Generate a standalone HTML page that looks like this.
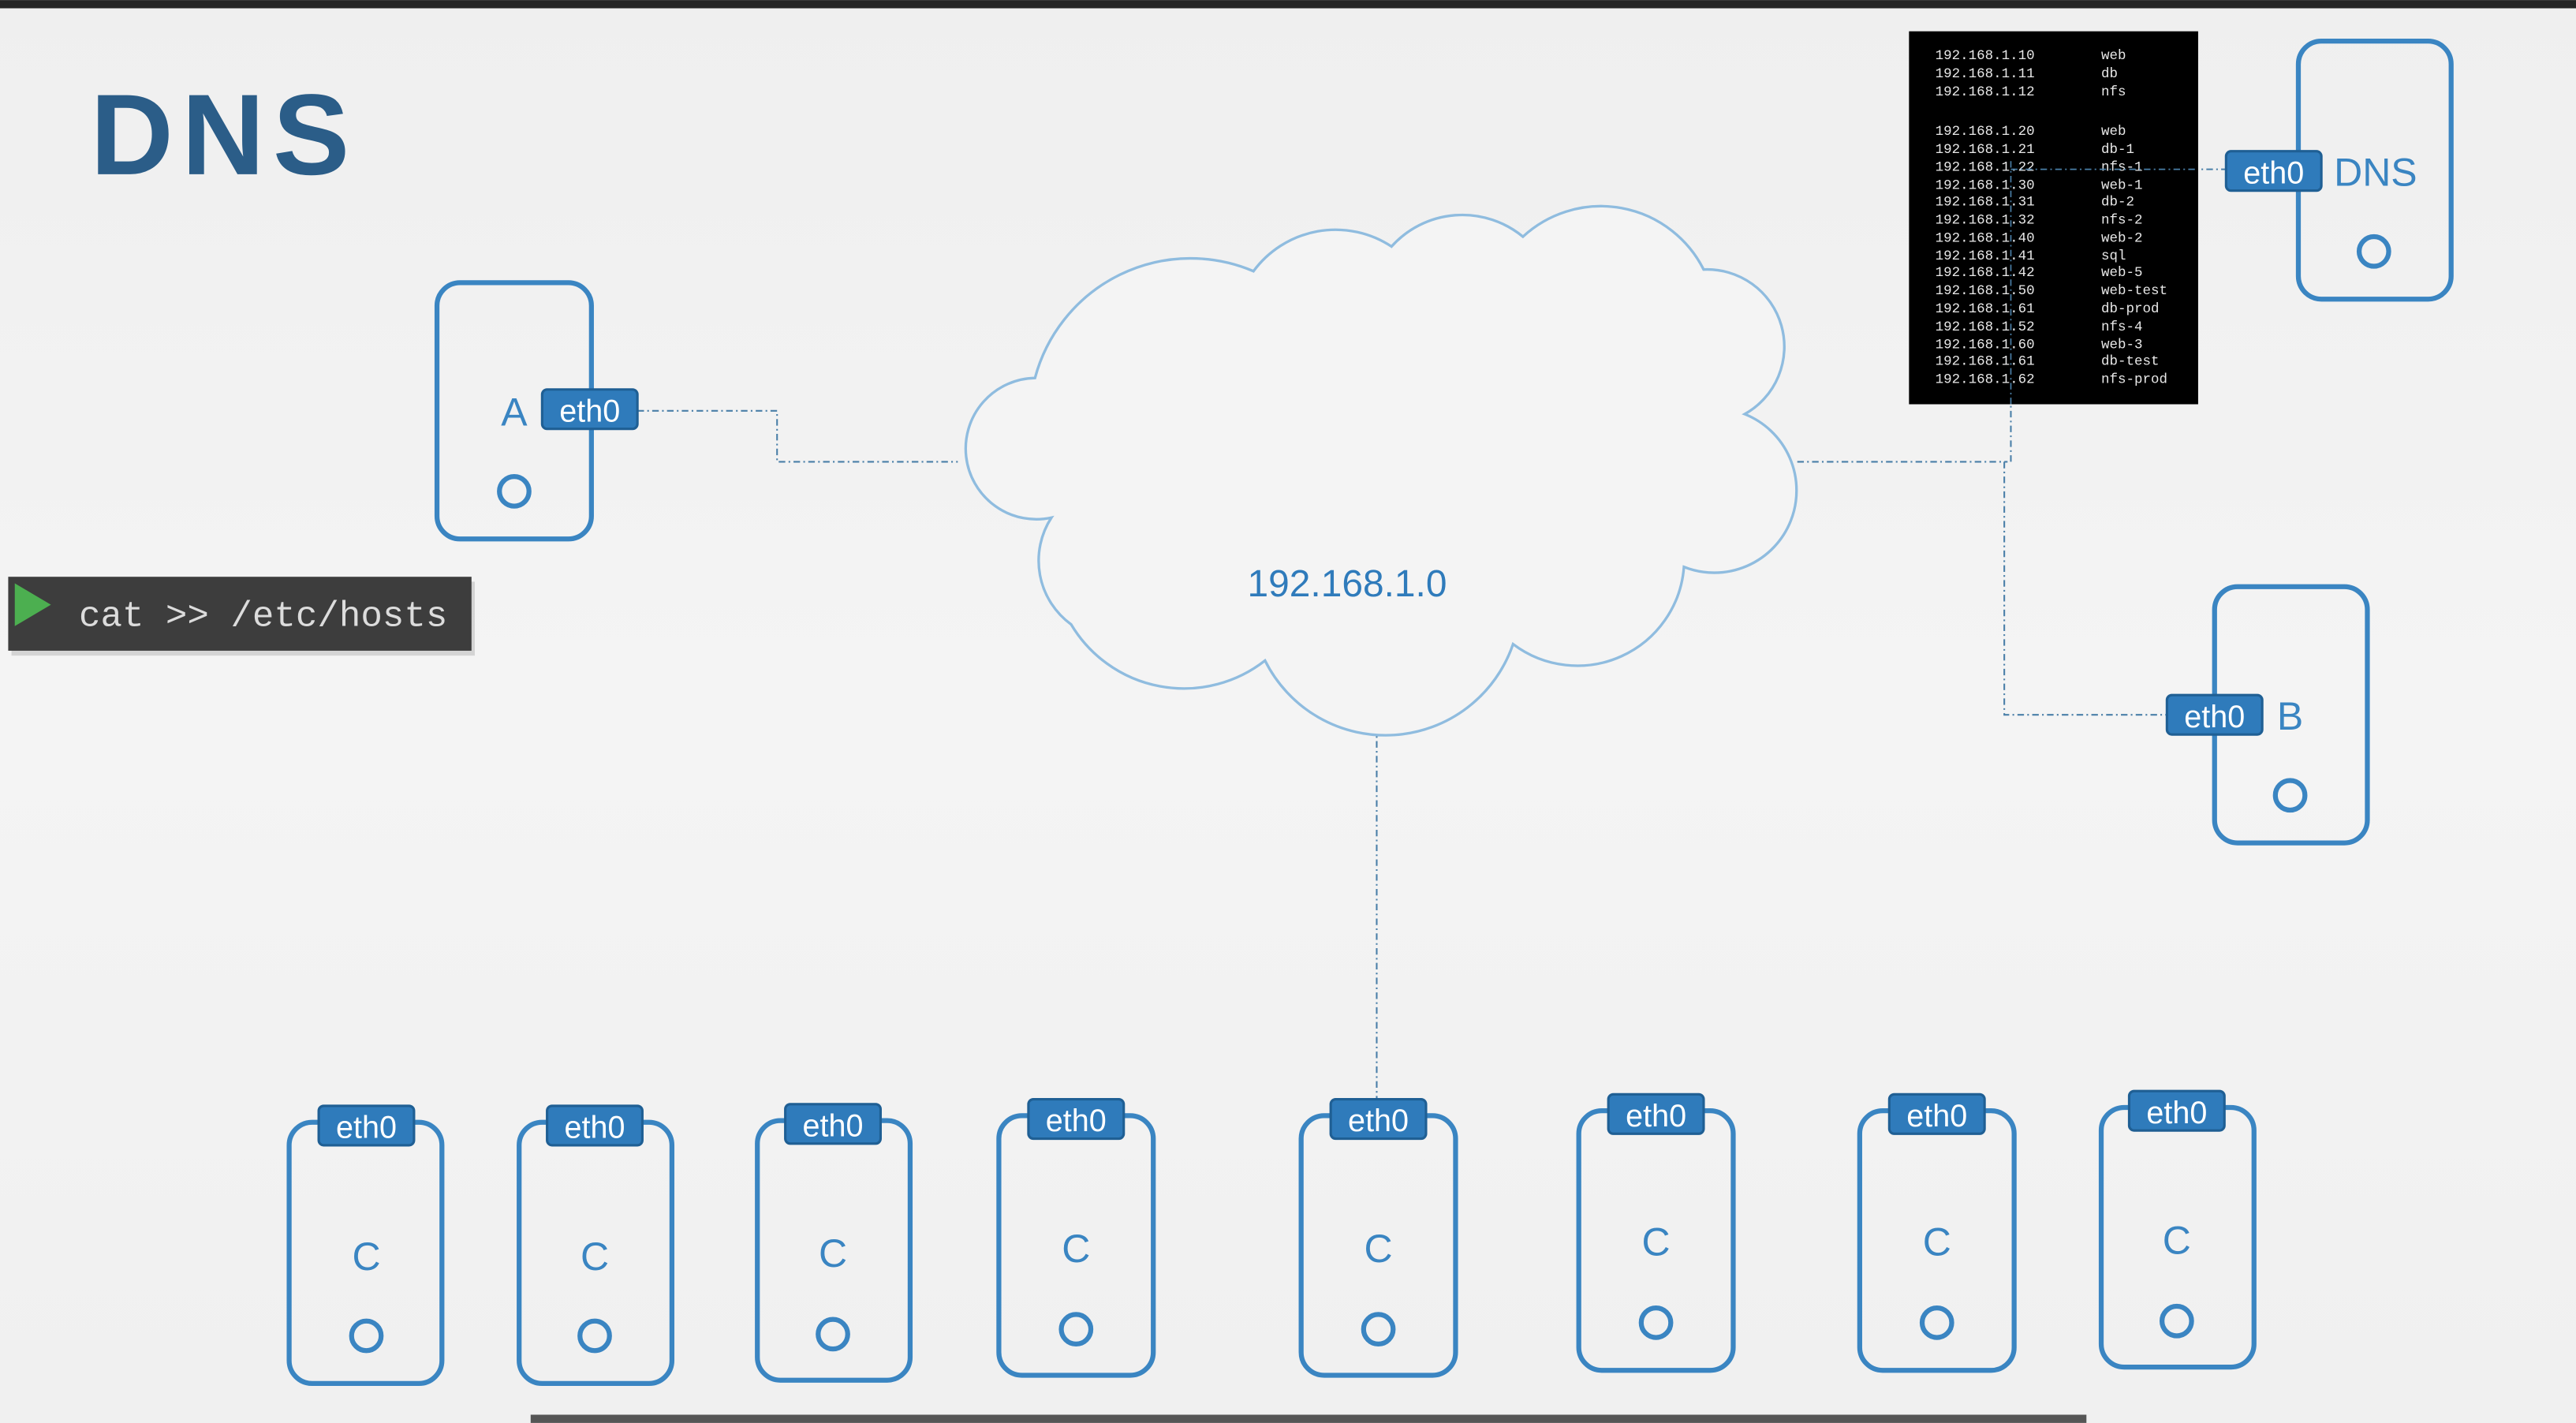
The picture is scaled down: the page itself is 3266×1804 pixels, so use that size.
<!DOCTYPE html>
<html><head><meta charset="utf-8"><style>
html,body{margin:0;padding:0;width:3266px;height:1804px;overflow:hidden;background:#f2f2f2}
svg{display:block}
</style></head><body>
<svg width="3266" height="1804" viewBox="0 0 1568 866" xmlns="http://www.w3.org/2000/svg">
<defs>
<linearGradient id="bg" x1="0" y1="0" x2="0" y2="1"><stop offset="0" stop-color="#efefef"/><stop offset="0.5" stop-color="#f4f4f4"/><stop offset="1" stop-color="#f0f0f0"/></linearGradient>
<g id="badge"><rect x="-29" y="-12" width="58" height="24" rx="3" fill="#2f7bbb" stroke="#1f5f94" stroke-width="1.5"/><text x="0" y="7.5" font-family="Liberation Sans, sans-serif" font-size="19" fill="#fff" text-anchor="middle">eth0</text></g>
</defs>
<rect width="1568" height="866" fill="url(#bg)"/>
<rect width="1568" height="5" fill="#262626"/>
<rect x="323" y="861" width="947" height="5" fill="#555"/>

<text x="55" y="106" font-family="Liberation Sans, sans-serif" font-weight="bold" font-size="70" letter-spacing="5" fill="#2b5d88">DNS</text>

<!-- dashed connectors -->
<g stroke="#4a7fa8" stroke-width="1" stroke-dasharray="4,2,1,2" fill="none">
<path d="M388 250 H473 V281 H583"/>
<path d="M1094 281 H1222"/>
<path d="M1220 281 V435 H1320"/>
<path d="M838 442 V670"/>
<path d="M1224 281 V103 H1355"/>
</g>

<!-- cloud -->
<path d="M640 315 A43 43 0 1 1 630 230 A98 98 0 0 1 763 165 A62 62 0 0 1 847 150 A58 58 0 0 1 927 144 A70 70 0 0 1 1037 164 A47 47 0 0 1 1062 252 A50 50 0 1 1 1025 345 A65 65 0 0 1 921 392 A82 82 0 0 1 770 402 A80 80 0 0 1 652 380 A48 48 0 0 1 640 315 Z" fill="#f4f4f4" stroke="#8fbcdf" stroke-width="1.6"/>
<text x="820" y="363" font-family="Liberation Sans, sans-serif" font-size="23" fill="#2f7bbb" text-anchor="middle">192.168.1.0</text>

<!-- hosts file -->
<rect x="1162" y="19" width="176" height="227" fill="#000"/>
<g font-family="Liberation Mono, monospace" font-size="8.4" fill="#e8e8e8">
<text x="1178" y="36">192.168.1.10</text><text x="1279" y="36">web</text>
<text x="1178" y="47">192.168.1.11</text><text x="1279" y="47">db</text>
<text x="1178" y="58">192.168.1.12</text><text x="1279" y="58">nfs</text>
<text x="1178" y="82">192.168.1.20</text><text x="1279" y="82">web</text>
<text x="1178" y="93">192.168.1.21</text><text x="1279" y="93">db-1</text>
<text x="1178" y="104">192.168.1.22</text><text x="1279" y="104">nfs-1</text>
<text x="1178" y="115">192.168.1.30</text><text x="1279" y="115">web-1</text>
<text x="1178" y="125">192.168.1.31</text><text x="1279" y="125">db-2</text>
<text x="1178" y="136">192.168.1.32</text><text x="1279" y="136">nfs-2</text>
<text x="1178" y="147">192.168.1.40</text><text x="1279" y="147">web-2</text>
<text x="1178" y="158">192.168.1.41</text><text x="1279" y="158">sql</text>
<text x="1178" y="168">192.168.1.42</text><text x="1279" y="168">web-5</text>
<text x="1178" y="179">192.168.1.50</text><text x="1279" y="179">web-test</text>
<text x="1178" y="190">192.168.1.61</text><text x="1279" y="190">db-prod</text>
<text x="1178" y="201">192.168.1.52</text><text x="1279" y="201">nfs-4</text>
<text x="1178" y="212">192.168.1.60</text><text x="1279" y="212">web-3</text>
<text x="1178" y="222">192.168.1.61</text><text x="1279" y="222">db-test</text>
<text x="1178" y="233">192.168.1.62</text><text x="1279" y="233">nfs-prod</text>
</g>
<path d="M1224 98 V246 M1224 103 H1338" stroke="#4a7fa8" stroke-width="0.8" stroke-dasharray="4,2,1,2" fill="none"/>

<g fill="none" stroke="#3a85c2" stroke-width="3">
<rect x="266" y="172" width="94" height="156" rx="14"/>
<circle cx="313" cy="299" r="9"/>
<rect x="1399" y="25" width="93" height="157" rx="14"/>
<circle cx="1445" cy="153" r="9"/>
<rect x="1348" y="357" width="93" height="156" rx="14"/>
<circle cx="1394" cy="484" r="9"/>
<rect x="176" y="683" width="93" height="159" rx="14"/><circle cx="223" cy="813" r="9"/>
<rect x="316" y="683" width="93" height="159" rx="14"/><circle cx="362" cy="813" r="9"/>
<rect x="461" y="682" width="93" height="158" rx="14"/><circle cx="507" cy="812" r="9"/>
<rect x="608" y="679" width="94" height="158" rx="14"/><circle cx="655" cy="809" r="9"/>
<rect x="792" y="679" width="94" height="158" rx="14"/><circle cx="839" cy="809" r="9"/>
<rect x="961" y="676" width="94" height="158" rx="14"/><circle cx="1008" cy="805" r="9"/>
<rect x="1132" y="676" width="94" height="158" rx="14"/><circle cx="1179" cy="805" r="9"/>
<rect x="1279" y="674" width="93" height="158" rx="14"/><circle cx="1325" cy="804" r="9"/>
</g>

<g font-family="Liberation Sans, sans-serif" font-size="24" fill="#3a85c2" text-anchor="middle">
<text x="313" y="259">A</text>
<text x="1446" y="113">DNS</text>
<text x="1394" y="444">B</text>
<text x="223" y="773">C</text><text x="362" y="773">C</text><text x="507" y="771">C</text><text x="655" y="768">C</text>
<text x="839" y="768">C</text><text x="1008" y="764">C</text><text x="1179" y="764">C</text><text x="1325" y="763">C</text>
</g>

<use href="#badge" x="359" y="249"/>
<use href="#badge" x="1384" y="104"/>
<use href="#badge" x="1348" y="435"/>
<use href="#badge" x="223" y="685"/>
<use href="#badge" x="362" y="685"/>
<use href="#badge" x="507" y="684"/>
<use href="#badge" x="655" y="681"/>
<use href="#badge" x="839" y="681"/>
<use href="#badge" x="1008" y="678"/>
<use href="#badge" x="1179" y="678"/>
<use href="#badge" x="1325" y="676"/>

<rect x="7" y="354" width="282" height="45" fill="#999" opacity="0.35"/>
<rect x="5" y="351" width="282" height="45" fill="#3d3d3d"/>
<polygon points="9,355 31,368 9,381" fill="#4caf50"/>
<text x="48" y="381" font-family="Liberation Mono, monospace" font-size="22" fill="#dcdcdc">cat &gt;&gt; /etc/hosts</text>
</svg>
</body></html>
